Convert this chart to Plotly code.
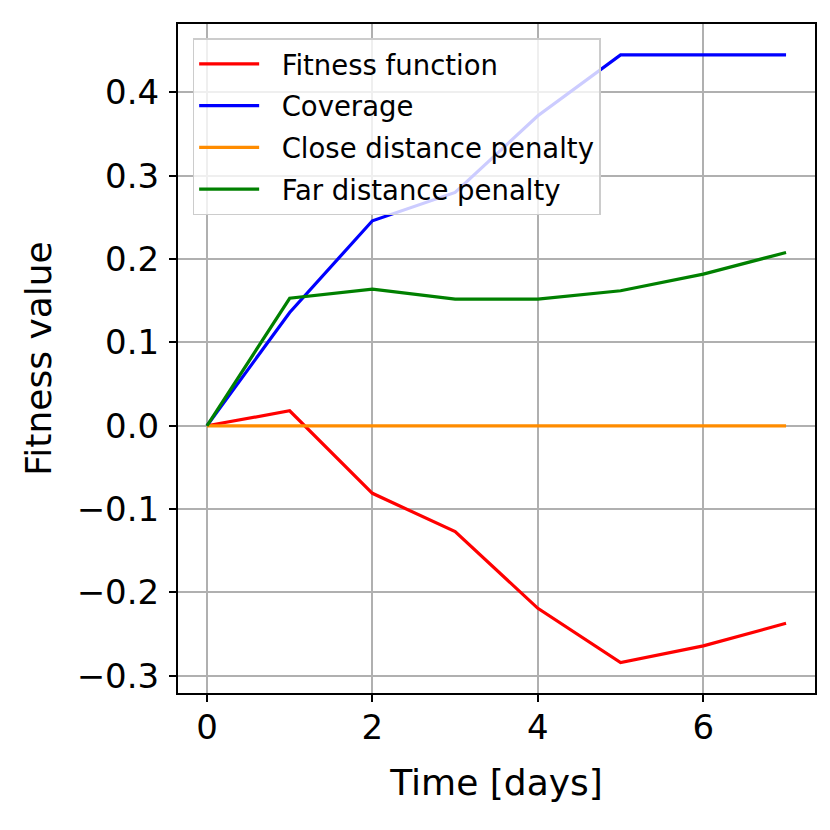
'''
Fitness components over time - line chart
'''
import plotly.graph_objects as go

# Data
days = [0, 1, 2, 3, 4, 5, 6, 7]
fitness_function = [0.0, 0.018, -0.081, -0.127, -0.219, -0.284, -0.264, -0.237]
coverage = [0.0, 0.136, 0.246, 0.280, 0.372, 0.445, 0.445, 0.445]
close_penalty = [0.0, 0.0, 0.0, 0.0, 0.0, 0.0, 0.0, 0.0]
far_penalty = [0.0, 0.153, 0.164, 0.152, 0.152, 0.162, 0.182, 0.208]

x_ticks = [0, 2, 4, 6]
y_ticks = [-0.3, -0.2, -0.1, 0.0, 0.1, 0.2, 0.3, 0.4]

FONT = "DejaVu Sans"
PAD = "\u00a0\u00a0"  # gap between legend line and label

series = [
    ("Fitness function", fitness_function, "#ff0000"),
    ("Coverage", coverage, "#0000ff"),
    ("Close distance penalty", close_penalty, "#ff8c00"),
    ("Far distance penalty", far_penalty, "#008000"),
]

fig = go.Figure()

for i, (name, vals, colour) in enumerate(series):
    fig.add_trace(go.Scatter(x=days,
                             y=vals,
                             name=PAD + name,
                             mode='lines',
                             legendgroup=str(i),
                             line=dict(color=colour, width=3.2)))

# Tidy up chart
axis_style = dict(showgrid=True,
                  gridcolor='#b0b0b0',
                  gridwidth=1.5,
                  showline=True,
                  linecolor='black',
                  linewidth=2,
                  mirror=True,
                  ticks='outside',
                  ticklen=7,
                  tickwidth=2,
                  tickcolor='black',
                  zeroline=False,
                  automargin=False,
                  tickfont=dict(family=FONT, size=34, color='black'))

fig.update_xaxes(axis_style,
                 title=dict(text='Time [days]', standoff=24,
                            font=dict(family=FONT, size=36, color='black')),
                 range=[-0.35, 7.35],
                 tickvals=x_ticks,
                 ticklabelstandoff=-4)
fig.update_yaxes(axis_style,
                 title=dict(text='Fitness value', standoff=14,
                            font=dict(family=FONT, size=36, color='black')),
                 range=[-0.3206, 0.4821],
                 tickvals=y_ticks,
                 tickformat='.1f',
                 ticklabelstandoff=3)

# page body adds an 8px offset, so margins are shifted to compensate
fig.update_layout(template="none",
                  autosize=False,
                  width=830,
                  height=830,
                  paper_bgcolor='white',
                  plot_bgcolor='white',
                  margin=dict(l=170, r=23, t=16, b=145),
                  font=dict(family=FONT, color='black'),
                  legend=dict(x=0.023, y=0.979,
                              xanchor='left', yanchor='top',
                              bgcolor='rgba(255,255,255,0.8)',
                              bordercolor='#cccccc',
                              borderwidth=1.5,
                              traceorder='grouped',
                              tracegroupgap=3,
                              itemwidth=60,
                              font=dict(family=FONT, size=27.5, color='black')))

fig.write_html("out.html")
